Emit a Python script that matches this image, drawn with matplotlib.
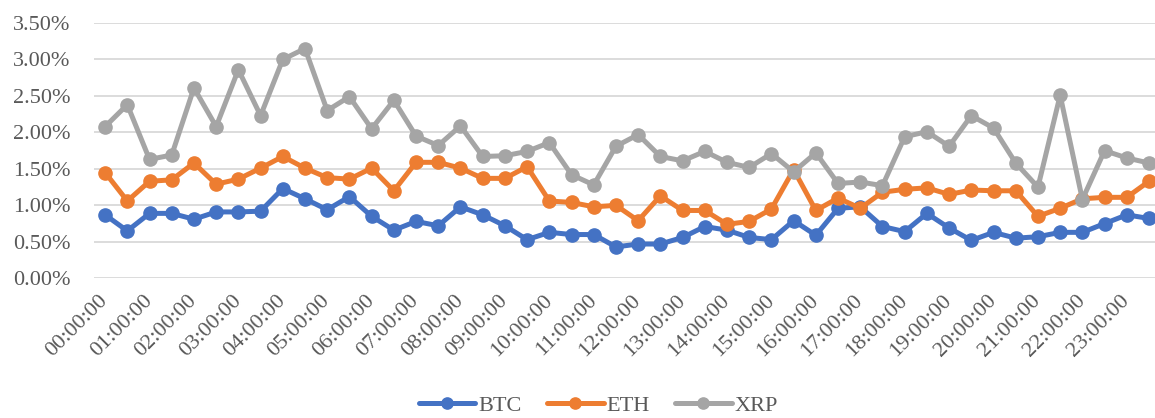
import matplotlib
matplotlib.use("Agg")
import matplotlib.pyplot as plt

# half-hour slots, values in percent
times = ["%02d:%02d:00" % (h, m) for h in range(24) for m in (0, 30)]
btc = [0.87, 0.65, 0.89, 0.89, 0.81, 0.91, 0.91, 0.92, 1.23, 1.09, 0.94, 1.12, 0.85, 0.66,
       0.78, 0.72, 0.98, 0.87, 0.72, 0.53, 0.63, 0.60, 0.60, 0.43, 0.47, 0.47, 0.56, 0.71,
       0.66, 0.56, 0.53, 0.79, 0.59, 0.96, 0.98, 0.71, 0.64, 0.89, 0.69, 0.52, 0.63, 0.55,
       0.57, 0.63, 0.63, 0.75, 0.87, 0.82]
eth = [1.45, 1.06, 1.33, 1.35, 1.58, 1.29, 1.36, 1.51, 1.67, 1.51, 1.38, 1.36, 1.51, 1.20,
       1.59, 1.59, 1.51, 1.37, 1.37, 1.53, 1.06, 1.04, 0.98, 1.00, 0.79, 1.13, 0.93, 0.93,
       0.74, 0.78, 0.95, 1.49, 0.93, 1.10, 0.96, 1.18, 1.22, 1.24, 1.15, 1.21, 1.20, 1.20,
       0.85, 0.96, 1.09, 1.11, 1.11, 1.33]
xrp = [2.08, 2.38, 1.63, 1.69, 2.61, 2.08, 2.86, 2.23, 3.00, 3.15, 2.30, 2.49, 2.05, 2.44,
       1.95, 1.82, 2.09, 1.67, 1.68, 1.74, 1.86, 1.42, 1.28, 1.81, 1.97, 1.67, 1.61, 1.74,
       1.59, 1.52, 1.71, 1.46, 1.72, 1.30, 1.32, 1.27, 1.94, 2.01, 1.81, 2.23, 2.06, 1.58,
       1.25, 2.51, 1.08, 1.75, 1.65, 1.58]
yticks = [0, 0.5, 1.0, 1.5, 2.0, 2.5, 3.0, 3.5]

plt.rcParams['font.family'] = ['Liberation Serif', 'DejaVu Serif']
txt = '#595959'

fig = plt.figure(figsize=(11.55, 4.18), dpi=100)
ax = fig.add_axes([94 / 1155, 1 - 278.3 / 418, 1 - 94 / 1155, (278.3 - 23) / 418])

x = list(range(len(times)))
for vals, name, col in [(btc, 'BTC', '#4472C4'), (eth, 'ETH', '#ED7D31'), (xrp, 'XRP', '#A5A5A5')]:
    ax.plot(x, vals, color=col, lw=3.6, marker='o', ms=9.5, label=name, solid_capstyle='round')

ax.set_xlim(-0.5, 47.27)
ax.set_ylim(0, 3.5)
ax.set_yticks(yticks)
ax.set_yticklabels(["%.2f%%" % v for v in yticks])
ax.grid(axis='y', color='#D9D9D9', lw=1.3)
ax.set_axisbelow(True)
for s in ax.spines.values():
    s.set_visible(False)

ax.set_xticks(x[::2])
ax.set_xticklabels(times[::2], rotation=45, ha='right', va='center', rotation_mode='anchor')
ax.tick_params(axis='both', length=0, labelsize=16, colors=txt)
ax.tick_params(axis='y', pad=17)
ax.tick_params(axis='x', pad=14)

# legend kept just inside the bottom edge so the labels are not clipped
leg = fig.legend(loc='center', bbox_to_anchor=(0.518, 0.03), ncol=3, frameon=False,
                 fontsize=16, labelcolor=txt, handlelength=2.55, handletextpad=0.12,
                 columnspacing=1.15, markerscale=0.85)

fig.savefig('out.png', dpi=100)
